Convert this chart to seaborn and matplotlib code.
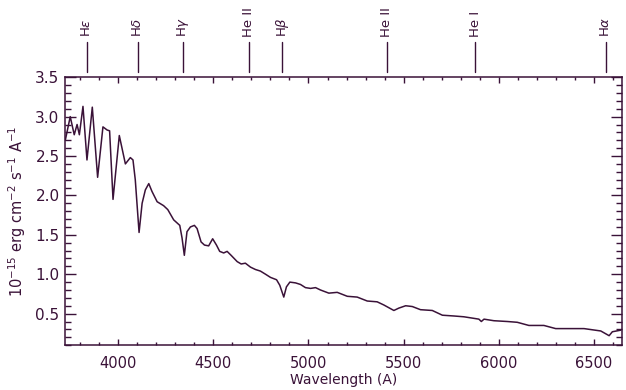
import matplotlib
matplotlib.use("Agg")
import matplotlib.pyplot as plt
import matplotlib.transforms as mtransforms
from matplotlib.ticker import MultipleLocator, FormatStrFormatter
import pandas as pd
import seaborn as sns

wavelength = [
    3721, 3747, 3768, 3783, 3795, 3814, 3835, 3863, 3891, 3919, 3941, 3954,
    3972, 4005, 4037, 4063, 4077, 4089, 4109, 4125, 4142, 4160, 4177, 4204,
    4238, 4260, 4291, 4323, 4335, 4347, 4361, 4379, 4400, 4414, 4435, 4453,
    4475, 4496, 4516, 4533, 4554, 4572, 4593, 4625, 4646, 4668, 4695, 4721,
    4747, 4774, 4800, 4832, 4849, 4870, 4884, 4902, 4932, 4958, 4984, 5011,
    5037, 5063, 5107, 5151, 5204, 5256, 5309, 5361, 5396, 5449, 5475, 5511,
    5546, 5589, 5651, 5704, 5765, 5817, 5870, 5896, 5909, 5923, 5975, 6046,
    6098, 6159, 6238, 6300, 6379, 6449, 6537, 6581, 6598, 6642,
]
flux = [
    2.70, 3.00, 2.77, 2.90, 2.77, 3.13, 2.45, 3.12, 2.23, 2.87, 2.83, 2.82,
    1.95, 2.76, 2.40, 2.48, 2.45, 2.20, 1.53, 1.90, 2.07, 2.15, 2.05, 1.92,
    1.87, 1.82, 1.69, 1.62, 1.46, 1.24, 1.54, 1.60, 1.62, 1.58, 1.41, 1.37,
    1.36, 1.45, 1.37, 1.29, 1.27, 1.29, 1.24, 1.16, 1.13, 1.14, 1.09, 1.06,
    1.04, 1.00, 0.96, 0.93, 0.86, 0.71, 0.84, 0.90, 0.89, 0.87, 0.83, 0.82,
    0.83, 0.80, 0.76, 0.77, 0.72, 0.71, 0.66, 0.65, 0.61, 0.54, 0.57, 0.60,
    0.59, 0.55, 0.54, 0.48, 0.47, 0.46, 0.44, 0.43, 0.40, 0.43, 0.41, 0.40,
    0.39, 0.35, 0.35, 0.31, 0.31, 0.31, 0.28, 0.22, 0.27, 0.29,
]

line_names = [r"H$\epsilon$", r"H$\delta$", r"H$\gamma$", "He II", r"H$\beta$",
              "He II", "He I", r"H$\alpha$"]
line_waves = [3835, 4101, 4340, 4686, 4861, 5411, 5876, 6563]

ink = "#3a1238"

sns.set_theme(style="ticks")
plt.rcParams["font.family"] = ["DejaVu Sans"]

spec = pd.DataFrame({"wavelength": wavelength, "flux": flux})

fig = plt.figure(figsize=(6.26, 3.90), dpi=100)
ax = fig.add_axes([0.104, 0.115, 0.890, 0.687])

sns.lineplot(data=spec, x="wavelength", y="flux", color=ink, linewidth=1.1, ax=ax)

ax.set_xlim(3720, 6650)
ax.set_ylim(0.1, 3.5)
ax.xaxis.set_major_locator(MultipleLocator(500))
ax.xaxis.set_minor_locator(MultipleLocator(100))
ax.yaxis.set_major_locator(MultipleLocator(0.5))
ax.yaxis.set_minor_locator(MultipleLocator(0.1))
ax.yaxis.set_major_formatter(FormatStrFormatter("%.1f"))
ax.tick_params(which="both", direction="in", top=True, right=True,
               color=ink, labelcolor=ink, labelsize=11, width=1)
ax.tick_params(axis="x", which="major", length=4, pad=8, labelsize=10.5)
ax.tick_params(axis="x", which="minor", length=2.2)
ax.tick_params(axis="y", which="major", length=8, pad=4)
ax.tick_params(axis="y", which="minor", length=4)
for s in ax.spines.values():
    s.set_color(ink)
    s.set_linewidth(1.1)

ax.set_xlabel("Wavelength (A)", color=ink, fontsize=10, labelpad=1)
ax.set_ylabel(r"10$^{-15}$ erg cm$^{-2}$ s$^{-1}$ A$^{-1}$", color=ink,
              fontsize=10.5, labelpad=5)

trans = mtransforms.blended_transform_factory(ax.transData, ax.transAxes)
for name, w in zip(line_names, line_waves):
    ax.plot([w, w], [1.02, 1.133], color=ink, lw=1.0, transform=trans, clip_on=False)
    ax.text(w, 1.15, name, rotation=90, ha="center", va="bottom", color=ink,
            fontsize=9.5, transform=trans, clip_on=False)

fig.savefig("out.png", dpi=100)
plt.close(fig)
